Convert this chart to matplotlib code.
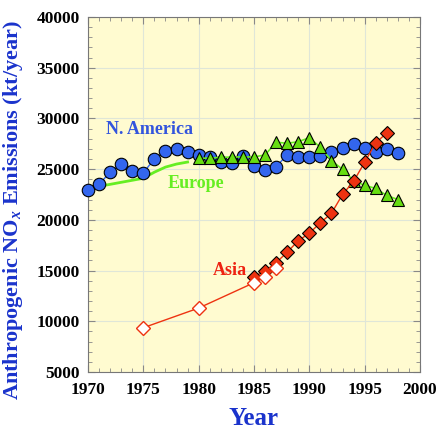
import matplotlib
matplotlib.use('Agg')
import matplotlib.pyplot as plt
from matplotlib.ticker import MultipleLocator

plt.rcParams['font.family'] = ['Liberation Serif', 'DejaVu Serif']
plt.rcParams['font.weight'] = 'bold'
plt.rcParams['mathtext.fontset'] = 'custom'
plt.rcParams['mathtext.rm'] = 'Liberation Serif:bold'
plt.rcParams['mathtext.it'] = 'Liberation Serif:bold:italic'

# N. America (circles)
na_years = list(range(1970, 1999))
na_vals = [22900, 23500, 24700, 25500, 24850, 24650, 26000, 26800, 27000, 26650,
           26400, 26150, 25750, 25600, 26300, 25300, 24900, 25250, 26400, 26150,
           26150, 26300, 26700, 27050, 27500, 27050, 26700, 26950, 26600]

# Europe early trend (line only)
eu_line_years = list(range(1970, 1980))
eu_line_vals = [23000, 23300, 23500, 23700, 23900, 24100, 24700, 25200, 25500, 25700]

# Europe (triangles)
eu_years = list(range(1980, 1999))
eu_vals = [26050, 26100, 26150, 26200, 26200, 26200, 26400, 27650, 27550, 27700,
           28100, 27150, 25850, 24980, 23850, 23400, 23100, 22400, 22000]

# Asia, open diamonds
asia_open_years = [1975, 1980, 1985, 1986, 1987]
asia_open_vals = [9360, 11300, 13800, 14350, 15230]

# Asia, filled diamonds
asia_years = list(range(1985, 1998))
asia_vals = [14400, 14950, 15780, 16800, 17950, 18670, 19720, 20640, 22500,
             23800, 25670, 27600, 28560]

blue = '#3366ee'
green = '#66dd11'
red = '#ee3311'

fig = plt.figure(figsize=(4.4, 4.33), dpi=100)
ax = fig.add_axes([0.2, 0.141, 0.7545, 0.8197])
ax.set_facecolor('#fffbd0')

ax.plot(eu_line_years, eu_line_vals, color='#66ee22', lw=2, zorder=3)
ax.plot(na_years, na_vals, color=blue, lw=1, marker='o', ms=9,
        mfc=blue, mec='black', mew=0.8, zorder=4, clip_on=False)
ax.plot(eu_years, eu_vals, color='#66ee22', lw=1.2, marker='^', ms=9,
        mfc=green, mec='black', mew=0.8, zorder=5)
ax.plot(asia_open_years, asia_open_vals, color=red, lw=1, marker='D', ms=7.5,
        mfc='white', mec=red, mew=1, zorder=6)
ax.plot(asia_years, asia_vals, color=red, lw=1, marker='D', ms=7.5,
        mfc=red, mec='black', mew=0.8, zorder=5)

ax.text(1971.6, 28950, 'N. America', color='#3355dd', fontsize=13,
        fontweight='bold', va='center', ha='left')
ax.text(1977.2, 23600, 'Europe', color='#66ee22', fontsize=13,
        fontweight='bold', va='center', ha='left')
ax.text(1981.3, 15050, 'Asia', color='#ee2211', fontsize=13,
        fontweight='bold', va='center', ha='left')

ax.set_xlim(1970, 2000)
ax.set_ylim(5000, 40000)
ax.xaxis.set_major_locator(MultipleLocator(5))
ax.xaxis.set_minor_locator(MultipleLocator(1))
ax.yaxis.set_major_locator(MultipleLocator(5000))
ax.yaxis.set_minor_locator(MultipleLocator(1000))
ax.grid(True, which='major', color='#dfe6d8', lw=0.8)
ax.set_axisbelow(True)

ax.tick_params(which='both', direction='in', top=True, right=True,
               color='#888888', labelsize=12.5)
ax.tick_params(which='major', length=5)
ax.tick_params(which='minor', length=3)
ax.tick_params(axis='x', which='major', pad=7)
ax.tick_params(axis='y', which='major', pad=6)
for lbl in ax.get_xticklabels() + ax.get_yticklabels():
    lbl.set_fontweight('bold')
for s in ax.spines.values():
    s.set_color('#777777')
    s.set_linewidth(0.8)

ax.set_xlabel('Year', color='#1a33cc', fontsize=18, fontweight='bold', labelpad=7)
ax.set_ylabel(r'Anthropogenic NO$_x$ Emissions (kt/year)', color='#1a33cc',
              fontsize=16, fontweight='bold')
ax.yaxis.set_label_coords(-0.19, 0.455)

fig.savefig('out.png', dpi=100)
